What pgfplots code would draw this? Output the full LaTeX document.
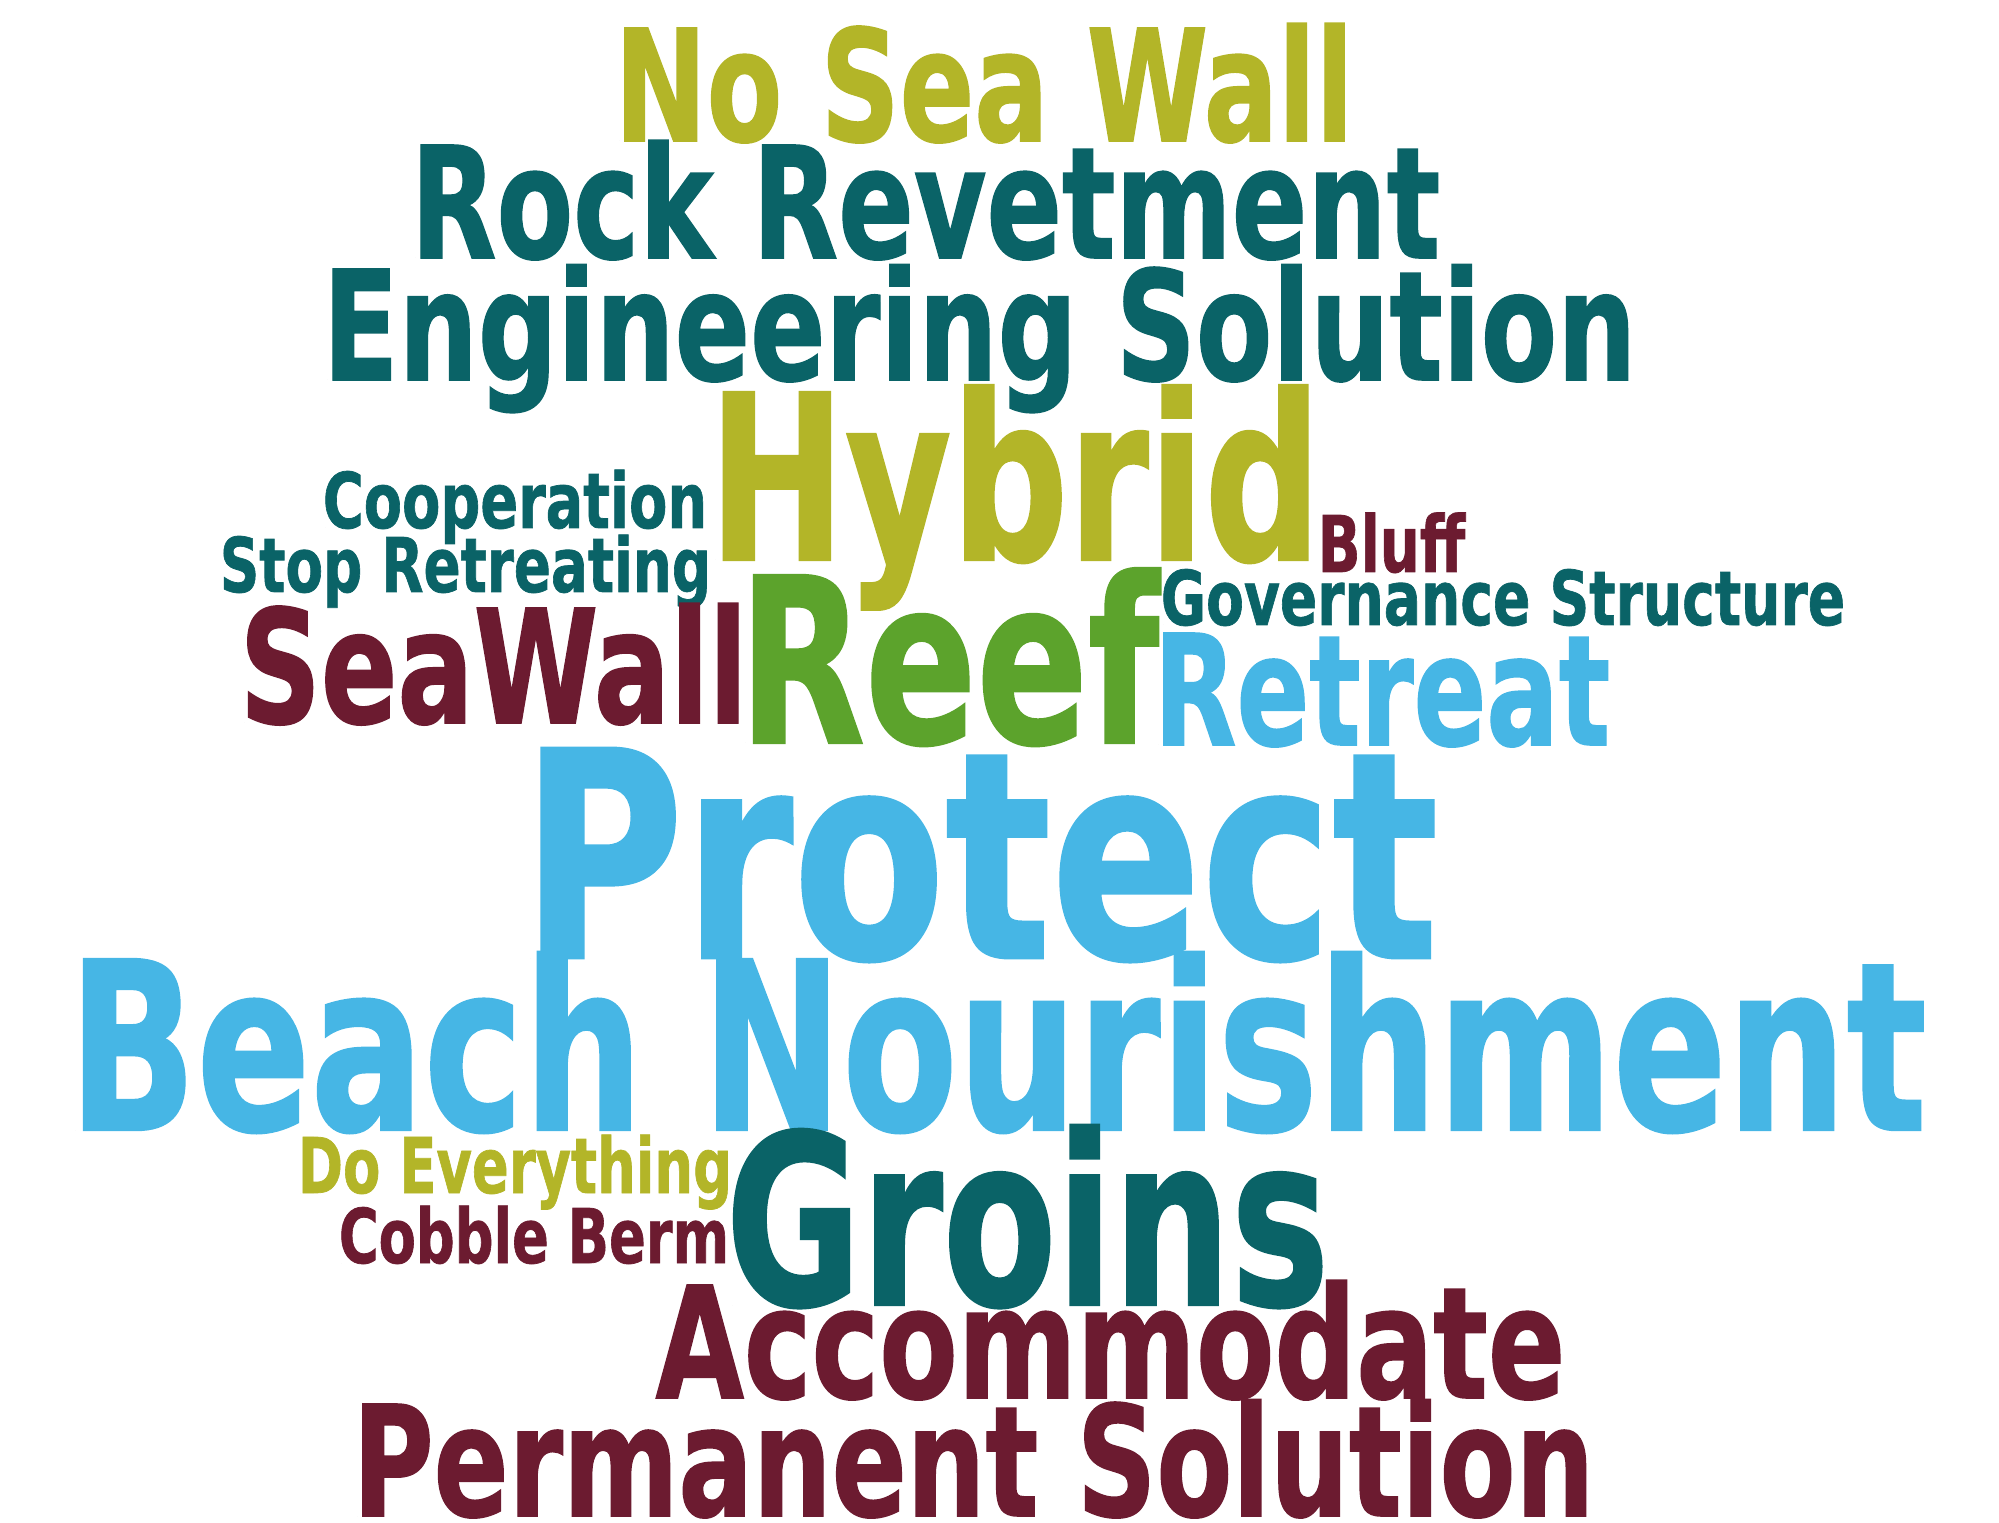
\documentclass[border=0pt]{standalone}
\usepackage{fontspec}
\usepackage{graphicx}
\usepackage{pgfplots}
\usepackage{pgfplotstable}
\pgfplotsset{compat=1.18}
\setmainfont{DejaVu Sans}
\IfFontExistsTF{DejaVu Sans Condensed Bold}
  {\newfontfamily\wcfont{DejaVu Sans Condensed Bold}[FakeBold=1]}
  {\newfontfamily\wcfont{DejaVu Sans}[UprightFont=*-Bold,FakeBold=1]}
\definecolor{wc1}{RGB}{179,181,40}
\definecolor{wc2}{RGB}{10,99,103}
\definecolor{wc3}{RGB}{108,27,48}
\definecolor{wc4}{RGB}{92,163,44}
\definecolor{wc5}{RGB}{70,182,229}
\newdimen\natw
\newdimen\nath
\newcommand\pxu{0.3}
% width is fitted to the ink (side bearings partly removed)
\newcommand\fitword[3]{%
  \settowidth\natw{\wcfont #3\hspace*{-0.07em}}%
  \settoheight\nath{\wcfont H}%
  \scalebox{\fpeval{(#1)*\pxu/\natw}}[\fpeval{(#2)*\pxu/\nath}]{\wcfont\hspace*{-0.035em}#3}}
% c: 1 olive, 2 teal, 3 maroon, 4 green, 5 light blue
\pgfplotstableread[col sep=comma]{
word,x,y,w,h,c
No Sea Wall,619,141,730,113,1
Rock Revetment,415,258,1021,113,2
Engineering Solution,327,380,1305,111,2
Hybrid,715,560,600,168,1
Cooperation,325,528,380,56,2
Stop Retreating,222,592,487,55,2
Bluff,1320,572,143,57,3
Governance Structure,1163,625,680,55,2
SeaWall,244,723,499,115,3
Reef,745,743,408,168,4
Retreat,1158,745,448,112,5
Protect,530,958,900,210,5
Beach Nourishment,75,1130,1845,171,5
Do Everything,300,1193,430,56,1
Cobble Berm,341,1263,386,55,3
Groins,732,1305,591,173,2
Accommodate,660,1398,901,113,3
Permanent Solution,357,1516,1233,112,3
}\words
\begin{document}
\begin{tikzpicture}
\begin{axis}[
  scale only axis, width=599.7pt, height=456.9pt,
  xmin=0, xmax=1999, ymin=0, ymax=1523, y dir=reverse,
  hide axis, clip=false]
\addplot[
  scatter, only marks, mark=*, mark size=0pt,
  mark options={draw=none, fill=none},
  point meta=explicit symbolic,
  visualization depends on={\thisrow{c}\as\ci},
  visualization depends on={\thisrow{w}\as\ww},
  visualization depends on={\thisrow{h}\as\hh},
  scatter/@pre marker code/.code={%
    \pgfmathtruncatemacro\cii{\ci}%
    \node[anchor=base west, inner sep=0pt, outer sep=0pt, text=wc\cii] at (0,0)
      {\fitword{\ww}{\hh}{\pgfplotspointmeta}};},
  scatter/@post marker code/.code={}
] table[x=x, y=y, meta=word] {\words};
\end{axis}
\pgfresetboundingbox
\useasboundingbox (current axis.south west) rectangle (current axis.north east);
\end{tikzpicture}
\end{document}
